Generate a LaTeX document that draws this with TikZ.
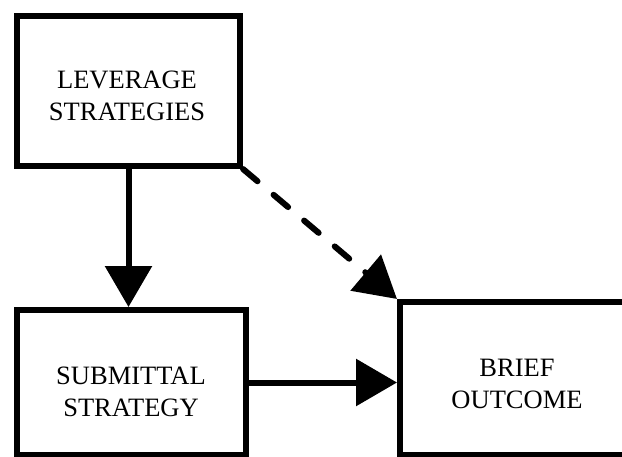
\documentclass[tikz,border=0pt]{standalone}
\usepackage{fontspec}
\setmainfont{Liberation Serif}
\usetikzlibrary{arrows.meta}
\begin{document}
\begin{tikzpicture}[x=1pt,y=-1pt,
  box/.style={draw,line width=6pt,minimum width=#1,inner sep=0pt},
  lbl/.style={align=center,font=\fontsize{26.5}{32}\selectfont,inner sep=0pt},
  conn/.style={line width=6pt,-{Triangle[length=41pt,width=46pt]}}]
\useasboundingbox (0,0) rectangle (622,456);
\node[box=223pt,minimum height=150pt] (lev) at (128.5,91) {};
\node[box=229pt,minimum height=145pt] (sub) at (131.5,382.5) {};
\node[box=228pt,minimum height=153pt] (out) at (514,378.5) {};
\node[lbl] (levt) at (127,96) {LEVERAGE\\STRATEGIES};
\node[lbl] (subt) at (131,392) {SUBMITTAL\\STRATEGY};
\node[lbl] (outt) at (517,384) {BRIEF\\OUTCOME};
\draw[conn] (lev.south) -- (lev.south |- sub.north);
\draw[conn] (sub.east) -- (out.west |- sub.east);
\draw[conn,line cap=round,dash pattern=on 19pt off 21pt] (lev.south east) -- (out.north west);
\end{tikzpicture}
\end{document}
